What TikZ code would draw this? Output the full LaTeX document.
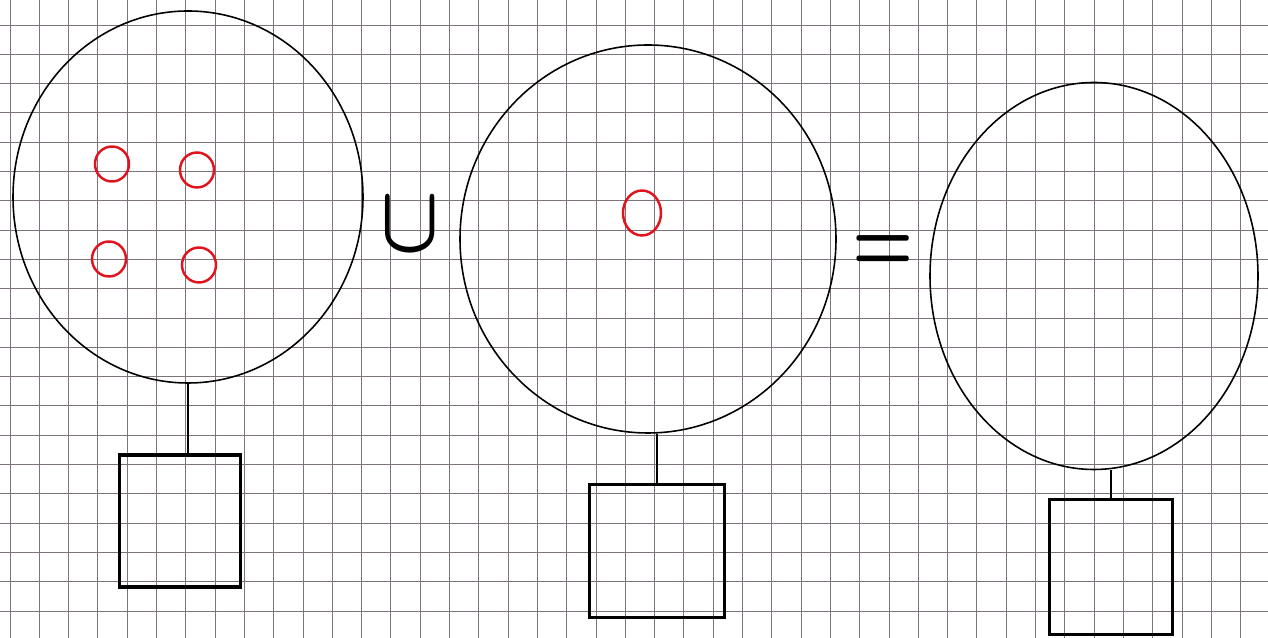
\documentclass[tikz,border=0pt]{standalone}
\usepackage{tikz}
\usepackage{amsmath}
\usetikzlibrary{shapes.geometric,positioning}
\definecolor{PenRed}{RGB}{225,20,30}
\definecolor{GridGray}{RGB}{125,115,125}
\begin{document}
\begin{tikzpicture}[
  setcirc/.style={draw,ellipse,line width=0.9pt,inner sep=0pt},
  elemdot/.style={draw=PenRed,ellipse,line width=1.4pt,minimum width=0.68cm,
                  minimum height=0.7cm,inner sep=0pt},
  labbox/.style={draw,line width=1.8pt,inner sep=0pt},
  stem/.style={line width=1.6pt},
  opsym/.style={inner sep=0pt},
]
\useasboundingbox (0,0) rectangle (25.36,12.76);
\fill[white] (0,0) rectangle (25.36,12.76);
% squared paper
\foreach \i in {0,...,43}
  \draw[GridGray,line width=0.5pt] (0.2+\i*0.586,0) -- (0.2+\i*0.586,12.76);
\foreach \j in {0,...,21}
  \draw[GridGray,line width=0.5pt] (0,0.54+\j*0.586) -- (25.36,0.54+\j*0.586);
% the three sets
\node[setcirc,minimum width=7.0cm,minimum height=7.44cm] (c1) at (3.76,8.82) {};
\node[setcirc,minimum width=7.52cm,minimum height=7.76cm] (c2) at (12.96,7.98) {};
\node[setcirc,minimum width=6.56cm,minimum height=7.74cm] (c3) at (21.88,7.24) {};
% boxes under them
\node[labbox,minimum width=2.42cm,minimum height=2.64cm] (s1) at (3.6,2.34) {};
\node[labbox,minimum width=2.7cm,minimum height=2.66cm] (s2) at (13.14,1.74) {};
\node[labbox,minimum width=2.46cm,minimum height=2.7cm] (s3) at (22.22,1.42) {};
\draw[stem] (c1.south) -- (c1.south |- s1.north);
\draw[stem] (s2.north |- c2.south) -- (s2.north);
\draw[stem] (s3.north |- c3.south) -- (s3.north);
% elements
\node[elemdot] (e1) at (2.24,9.48) {};
\node[elemdot] (e2) at (3.94,9.36) {};
\node[elemdot] (e3) at (2.18,7.58) {};
\node[elemdot] (e4) at (3.98,7.46) {};
\node[elemdot,minimum width=0.76cm,minimum height=0.9cm] (e5) at (12.84,8.5) {};
% operators
\node[opsym] (un) at (8.2,8.25) {\scalebox{4.4}[5.4]{$\boldsymbol{\cup}$}};
\node[opsym] (eq) at (17.66,7.68) {\scalebox{3.9}[5.2]{$\boldsymbol{=}$}};
\end{tikzpicture}
\end{document}
